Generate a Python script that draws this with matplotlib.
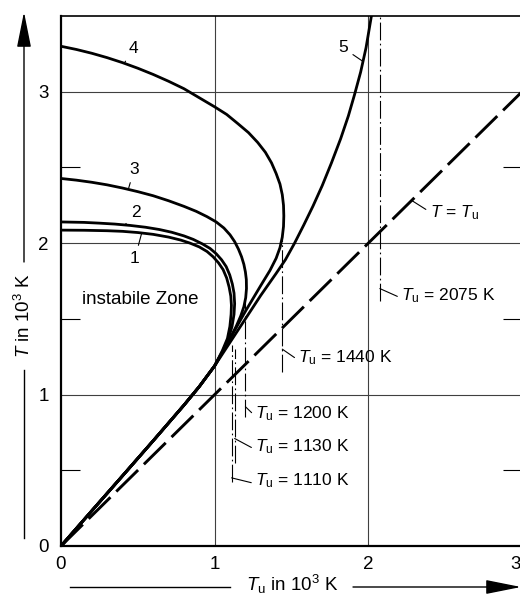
import matplotlib
matplotlib.use("Agg")
import matplotlib.pyplot as plt
import matplotlib.transforms as mtransforms
from matplotlib.lines import Line2D
from matplotlib.patches import FancyArrowPatch

plt.rcParams['font.family'] = ['Liberation Sans', 'DejaVu Sans']
plt.rcParams['mathtext.fontset'] = 'custom'
plt.rcParams['mathtext.rm'] = 'Liberation Sans'
plt.rcParams['mathtext.it'] = 'Liberation Sans:italic'

# Temperatures in 10^3 K: ambient temperature T_u (x) and reaction temperature T (y)
# shared lower (stable) branch from the origin
base_tu = [0.0, 0.2, 0.4, 0.6, 0.8, 0.9, 1.0]
base_t = [0.0, 0.232, 0.463, 0.695, 0.93, 1.053, 1.19]

curve1_tu = [1.05, 1.083, 1.099, 1.107, 1.109, 1.105, 1.094, 1.078, 1.055, 1.025, 0.99, 0.95,
             0.90, 0.84, 0.78, 0.70, 0.60, 0.50, 0.40, 0.30, 0.15, 0.0]
curve1_t = [1.29, 1.37, 1.45, 1.53, 1.59, 1.65, 1.71, 1.77, 1.825, 1.87, 1.91, 1.945,
            1.975, 2.0, 2.02, 2.04, 2.058, 2.07, 2.078, 2.082, 2.085, 2.086]

curve2_tu = [1.05, 1.09, 1.113, 1.126, 1.13, 1.126, 1.115, 1.098, 1.075, 1.045, 1.01, 0.97,
             0.92, 0.86, 0.80, 0.72, 0.64, 0.55, 0.45, 0.35, 0.25, 0.15, 0.0]
curve2_t = [1.28, 1.37, 1.45, 1.53, 1.60, 1.67, 1.73, 1.79, 1.845, 1.89, 1.93, 1.965,
            1.995, 2.025, 2.048, 2.072, 2.09, 2.105, 2.117, 2.126, 2.132, 2.137, 2.14]

curve3_tu = [1.05, 1.10, 1.14, 1.17, 1.19, 1.202, 1.207, 1.206, 1.20, 1.19, 1.175, 1.155,
             1.13, 1.10, 1.06, 1.01, 0.95, 0.88, 0.80, 0.70, 0.60, 0.50, 0.40, 0.30,
             0.20, 0.10, 0.0]
curve3_t = [1.28, 1.37, 1.45, 1.52, 1.58, 1.64, 1.70, 1.76, 1.81, 1.86, 1.91, 1.96,
            2.01, 2.055, 2.10, 2.14, 2.175, 2.21, 2.243, 2.28, 2.313, 2.34, 2.364, 2.385,
            2.402, 2.416, 2.427]

curve4_tu = [1.10, 1.20, 1.30, 1.36, 1.40, 1.425, 1.44, 1.448, 1.45, 1.448, 1.44, 1.425,
             1.40, 1.37, 1.33, 1.28, 1.22, 1.15, 1.078, 1.0, 0.9, 0.8, 0.7, 0.6, 0.5,
             0.4, 0.3, 0.2, 0.1, 0.0]
curve4_t = [1.37, 1.55, 1.72, 1.82, 1.90, 1.97, 2.04, 2.11, 2.18, 2.25, 2.32, 2.39,
            2.46, 2.53, 2.60, 2.665, 2.73, 2.79, 2.85, 2.90, 2.96, 3.02, 3.069, 3.114, 3.155,
            3.192, 3.225, 3.254, 3.279, 3.30]

curve5_tu = [1.1, 1.2, 1.3, 1.4, 1.46, 1.52, 1.58, 1.64, 1.70, 1.76, 1.82, 1.87, 1.91,
             1.95, 1.985, 2.02]
curve5_t = [1.345, 1.50, 1.655, 1.80, 1.89, 2.0, 2.12, 2.245, 2.38, 2.53, 2.69, 2.84, 2.98,
            3.13, 3.29, 3.5]

curve_names = ['1', '2', '3', '4', '5']

# critical ambient temperatures (K) and the T-range of their marker lines (10^3 K)
crit_k = [1110, 1130, 1200, 1440, 2075]
crit_t_lo = [0.42, 0.55, 0.85, 1.15, 1.62]
crit_t_hi = [1.33, 1.30, 1.62, 2.07, 3.5]

x_ticks = [0, 1, 2, 3]
y_ticks = [0, 1, 2, 3]

W, H = 520, 597
fig = plt.figure(figsize=(W / 100, H / 100), dpi=100)
ax = fig.add_axes([61 / W, 51 / H, 461 / W, 530 / H])
ax.set_xlim(0, 3)
ax.set_ylim(0, 3.5)

# grid
for gx in [1, 2]:
    ax.axvline(gx, color='0.25', lw=0.8, zorder=1)
for gy in [1, 2, 3]:
    ax.axhline(gy, color='0.25', lw=0.8, zorder=1)

curves = [
    (curve1_tu, curve1_t),
    (curve2_tu, curve2_t),
    (curve3_tu, curve3_t),
    (curve4_tu, curve4_t),
    (curve5_tu, curve5_t),
]
for tu, t in curves:
    ax.plot(base_tu + tu, base_t + t, color='black', lw=2.0,
            solid_joinstyle='round', solid_capstyle='round', zorder=4)

# T = T_u line
ax.plot([0, 3], [0, 3], color='black', lw=2.1, linestyle=(0, (10.5, 2.8)), zorder=3)

# critical marker lines
crit_tu = [k / 1000 for k in crit_k]
for tu, lo, hi in zip(crit_tu, crit_t_lo, crit_t_hi):
    ax.plot([tu, tu], [lo, hi], color='black', lw=0.8,
            linestyle=(0, (16, 3, 1.5, 3)), zorder=2)

lab_fs = 12.5
leader = dict(arrowstyle='-', lw=0.8, color='black', shrinkA=1, shrinkB=0)

# labels of the critical lines: (point on line T, text x, text y)
crit_label_pos = [(0.45, 1.265, 0.43), (0.71, 1.265, 0.655), (0.92, 1.265, 0.875),
                  (1.30, 1.545, 1.245), (1.70, 2.215, 1.655)]
for k, tu, (lt, tx, ty) in zip(crit_k, crit_tu, crit_label_pos):
    ax.annotate(r'$T_\mathrm{u}$ = %d K' % k, xy=(tu, lt), xytext=(tx, ty),
                ha='left', va='center', fontsize=lab_fs,
                arrowprops=dict(leader, relpos=(0.0, 0.35)), zorder=5)

ax.annotate(r'$T$ = $T_\mathrm{u}$', xy=(2.282, 2.282), xytext=(2.40, 2.20),
            ha='left', va='center', fontsize=lab_fs,
            arrowprops=dict(leader, relpos=(0.0, 0.55)), zorder=5)

# curve numbers: (point on curve, text position)
name_pos = [((0.525, 2.066), (0.481, 1.90)),
            ((0.416, 2.12), (0.485, 2.205)),
            ((0.44, 2.362), (0.475, 2.485)),
            ((0.416, 3.195), (0.472, 3.285)),
            ((1.965, 3.20), (1.835, 3.29))]
for name, (pt, tp) in zip(curve_names, name_pos):
    ax.annotate(name, xy=pt, xytext=tp, ha='center', va='center', fontsize=lab_fs,
                arrowprops=dict(leader, shrinkA=2), zorder=5)

ax.text(0.135, 1.625, 'instabile Zone', ha='left', va='center', fontsize=13.5)

# axes styling
ax.set_xticks(x_ticks)
ax.set_yticks(y_ticks)
ax.set_xticklabels([str(v) for v in x_ticks])
ax.set_yticklabels([str(v) for v in y_ticks])
ax.set_yticks([0.5, 1.5, 2.5], minor=True)
ax.tick_params(axis='both', which='major', length=0, labelsize=13.5)
ax.tick_params(axis='x', which='major', pad=7)
ax.tick_params(axis='y', which='major', pad=9)
ax.tick_params(axis='y', which='minor', direction='in', length=13.5, width=0.8,
               left=True, right=True)
# keep the last x tick label inside the figure edge
last = ax.get_xticklabels()[-1]
last.set_transform(last.get_transform() +
                   mtransforms.ScaledTranslation(-5 / 72, 0, fig.dpi_scale_trans))
for side in ['left', 'bottom']:
    ax.spines[side].set_linewidth(1.6)
ax.spines['top'].set_linewidth(1.2)
ax.spines['right'].set_linewidth(1.2)


def fx(px):
    return px / W


def fy(py):
    return 1 - py / H


# axis titles with arrows
fig.text(fx(24), fy(316), r'$T$ in 10$^3$ K', rotation=90, ha='center', va='center',
         fontsize=13.5)
fig.add_artist(Line2D([fx(24), fx(24)], [fy(538), fy(370)], color='black', lw=1.0))
fig.add_artist(FancyArrowPatch((fx(24), fy(262)), (fx(24), fy(12)), transform=fig.transFigure,
                               arrowstyle='-|>,head_length=1.1,head_width=0.22',
                               mutation_scale=20, lw=1.0, color='black',
                               shrinkA=0, shrinkB=0))

fig.text(fx(292), fy(591), r'$T_\mathrm{u}$ in 10$^3$ K', ha='center', va='baseline',
         fontsize=13.5)
fig.add_artist(Line2D([fx(70), fx(230)], [fy(587), fy(587)], color='black', lw=1.0))
fig.add_artist(FancyArrowPatch((fx(353), fy(587)), (fx(521), fy(587)), transform=fig.transFigure,
                               arrowstyle='-|>,head_length=1.1,head_width=0.22',
                               mutation_scale=20, lw=1.0, color='black',
                               shrinkA=0, shrinkB=0))

fig.savefig('out.png', dpi=100)
